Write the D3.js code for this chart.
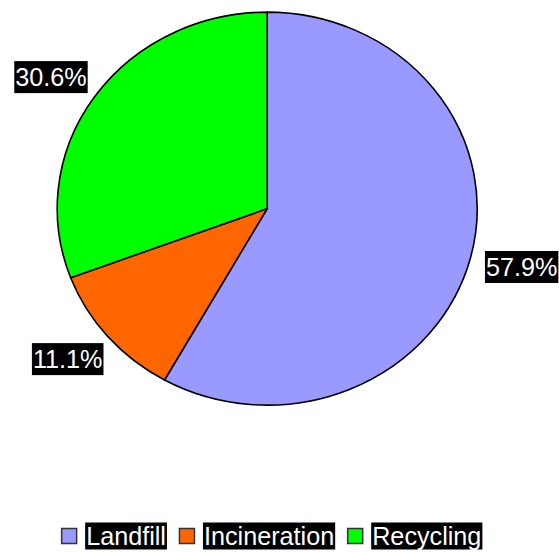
<!DOCTYPE html>
<html>
<head>
<meta charset="utf-8">
<script src="https://cdn.jsdelivr.net/npm/d3@7"></script>
<style>
  html, body { margin: 0; padding: 0; background: #fff; }
  svg { display: block; }
  text { font-family: "Liberation Sans", Arial, sans-serif; }
</style>
</head>
<body>
<svg id="chart" width="559" height="552"></svg>
<script>
const categories = ["Landfill", "Incineration", "Recycling"];
const values = [57.9, 11.1, 30.6];
const colors = ["#9999FF", "#FF6600", "#00FF00"];
const labels = ["57.9%", "11.1%", "30.6%"];

const svg = d3.select("#chart");
const cx = 267.2, cy = 208.6, rx = 210, ry = 196.5;
const fs = 25.2;

const pie = d3.pie().sort(null).value(d => d)(values);
const arc = d3.arc().innerRadius(0).outerRadius(rx);

const g = svg.append("g").attr("transform", `translate(${cx},${cy}) scale(1,${ry / rx})`);
g.selectAll("path").data(pie).join("path")
  .attr("d", arc)
  .attr("fill", (d, i) => colors[i])
  .attr("stroke", "#000")
  .attr("stroke-width", 1.6)
  .attr("stroke-linejoin", "round")
  .attr("vector-effect", "non-scaling-stroke");

// slice labels
const lx = 263, ly = 231;
const capH = fs * 0.70;
pie.forEach((d, i) => {
  const a = (d.startAngle + d.endAngle) / 2;
  const x = cx + lx * Math.sin(a);
  const y = cy - ly * Math.cos(a);
  const lg = svg.append("g");
  const t = lg.append("text")
    .attr("x", x).attr("y", y + capH / 2)
    .attr("text-anchor", "middle")
    .attr("font-size", fs)
    .attr("fill", "#fff")
    .text(labels[i]);
  const w = t.node().getComputedTextLength();
  lg.insert("rect", "text")
    .attr("x", x - w / 2 - 1).attr("y", y - 16)
    .attr("width", w + 2).attr("height", 32)
    .attr("fill", "#000");
});

// legend
const legY = 536; // center line
const gap = 12;
const leg = svg.append("g");
let xPos = 0;
categories.forEach((c, i) => {
  const ig = leg.append("g");
  ig.append("rect")
    .attr("x", xPos + 0.5).attr("y", legY - 7.5)
    .attr("width", 15).attr("height", 15)
    .attr("fill", colors[i])
    .attr("stroke", "#333").attr("stroke-width", 1.5);
  const tx = xPos + 24;
  const t = ig.append("text")
    .attr("x", tx + 1).attr("y", legY + capH / 2)
    .attr("font-size", fs)
    .attr("fill", "#fff")
    .text(c);
  const w = t.node().getComputedTextLength();
  ig.insert("rect", "text")
    .attr("x", tx).attr("y", legY - 13.5)
    .attr("width", w + 2).attr("height", 27)
    .attr("fill", "#000");
  xPos = tx + w + 2 + gap;
});
const total = xPos - gap;
leg.attr("transform", `translate(${(57.5 + 486) / 2 - total / 2},0)`);
</script>
</body>
</html>
